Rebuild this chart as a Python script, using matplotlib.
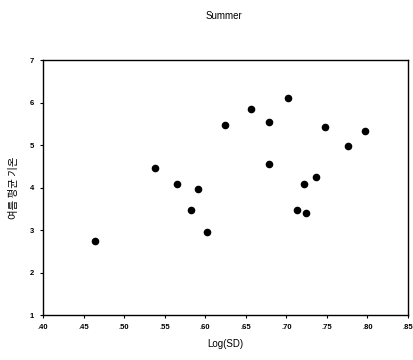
import matplotlib
matplotlib.use("Agg")
from matplotlib import pyplot as plt

# Summer scatter: Log(SD) vs value
log_sd = [0.464, 0.538, 0.565, 0.591, 0.582, 0.602, 0.624, 0.657, 0.679,
          0.679, 0.702, 0.713, 0.724, 0.722, 0.737, 0.748, 0.776, 0.797]
values = [2.75, 4.47, 4.09, 3.97, 3.47, 2.96, 5.47, 5.84, 5.54,
          4.55, 6.12, 3.47, 3.39, 4.09, 4.25, 5.42, 4.97, 5.34]

x_ticks = [0.40, 0.45, 0.50, 0.55, 0.60, 0.65, 0.70, 0.75, 0.80, 0.85]
x_tick_labels = [".40", ".45", ".50", ".55", ".60", ".65", ".70", ".75", ".80", ".85"]
y_ticks = [1, 2, 3, 4, 5, 6, 7]

plt.rcParams['font.family'] = ['Liberation Sans', 'Noto Sans CJK KR', 'DejaVu Sans']

fig = plt.figure(figsize=(4.14, 3.6), dpi=100)
ax = fig.add_axes([0.104, 0.125, 0.8815, 0.708])

ax.scatter(log_sd, values, s=20, color="black", zorder=3)

ax.set_xlim(0.40, 0.85)
ax.set_ylim(1, 7)
ax.set_xticks(x_ticks)
ax.set_xticklabels(x_tick_labels)
ax.set_yticks(y_ticks)
ax.tick_params(labelsize=5.5, length=2.5, width=0.8, direction="out", pad=4)
for lab in ax.get_xticklabels() + ax.get_yticklabels():
    lab.set_fontweight("bold")

for s in ax.spines.values():
    s.set_linewidth(1.0)

ax.set_xlabel("Log(SD)", fontsize=7, labelpad=6)
ax.set_ylabel("여름 평균 기온", fontsize=7.5, labelpad=8,
              family=['Noto Sans CJK KR', 'DejaVu Sans'])
fig.text(0.541, 0.955, "Summer", fontsize=7, ha="center", va="center")

fig.savefig("out.png", dpi=100)
